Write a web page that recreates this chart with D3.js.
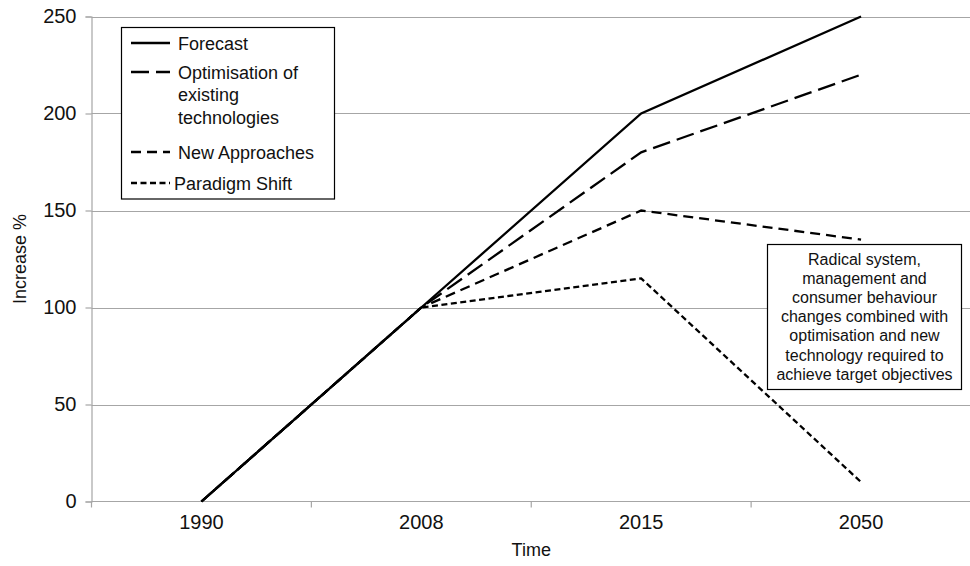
<!DOCTYPE html>
<html>
<head>
<meta charset="utf-8">
<script src="https://cdn.jsdelivr.net/npm/d3@7"></script>
<style>
  html, body { margin: 0; padding: 0; background: #fff; }
  svg { display: block; font-family: "Liberation Sans", Arial, Helvetica, sans-serif; }
</style>
</head>
<body>
<svg id="chart" width="970" height="566"></svg>
<script>
// Time periods along the x axis
const categories = ["1990", "2008", "2015", "2050"];

// Increase (%) per scenario
const forecast     = [0, 100, 200, 250];
const optimisation = [0, 100, 180, 220];
const newApproach  = [0, 100, 150, 135];
const paradigm     = [0, 100, 115, 10];

const seriesNames = ["Forecast", "Optimisation of existing technologies", "New Approaches", "Paradigm Shift"];
const yTicks = [0, 50, 100, 150, 200, 250];

const noteLines = [
  "Radical system,",
  "management and",
  "consumer behaviour",
  "changes combined with",
  "optimisation and new",
  "technology required to",
  "achieve target objectives"
];

(function () {
  const series = [
    { name: seriesNames[0], values: forecast,     dash: null },
    { name: seriesNames[1], values: optimisation, dash: "18,7" },
    { name: seriesNames[2], values: newApproach,  dash: "10,6" },
    { name: seriesNames[3], values: paradigm,     dash: "6,3.5" }
  ];

  const svg = d3.select("#chart");
  const plotLeft = 91.5, plotRight = 971, plotTop = 16.5, plotBottom = 501.5;

  const x = d3.scaleBand().domain(categories).range([plotLeft, plotRight]);
  const y = d3.scaleLinear().domain([0, 250]).range([plotBottom, plotTop]);
  const cx = c => x(c) + x.bandwidth() / 2;

  const gridColor = "#a6a6a6";

  // horizontal gridlines
  svg.append("g").selectAll("line")
    .data(yTicks.filter(d => d > 0))
    .join("line")
    .attr("x1", plotLeft).attr("x2", 970)
    .attr("y1", d => Math.round(y(d)) + 0.5).attr("y2", d => Math.round(y(d)) + 0.5)
    .attr("stroke", gridColor).attr("stroke-width", 1.2);

  // y axis
  const yAxis = svg.append("g")
    .attr("transform", `translate(${plotLeft},0)`)
    .call(d3.axisLeft(y).tickValues(yTicks).tickSize(6).tickPadding(9));
  yAxis.select(".domain").attr("stroke", gridColor).attr("stroke-width", 1.2);
  yAxis.selectAll(".tick line").attr("stroke", gridColor).attr("stroke-width", 1.2);
  yAxis.selectAll(".tick text").attr("font-size", 20).attr("fill", "#111")
    .attr("font-family", "'Liberation Sans', Arial, sans-serif");

  // x axis baseline with ticks at category boundaries
  const xAxis = svg.append("g");
  xAxis.append("line")
    .attr("x1", plotLeft).attr("x2", 970)
    .attr("y1", plotBottom).attr("y2", plotBottom)
    .attr("stroke", gridColor).attr("stroke-width", 1.2);
  const bounds = categories.map(c => x(c)).concat([x(categories[categories.length - 1]) + x.bandwidth()]);
  xAxis.selectAll("line.tk").data(bounds).join("line").attr("class", "tk")
    .attr("x1", d => d).attr("x2", d => d)
    .attr("y1", plotBottom).attr("y2", plotBottom + 6)
    .attr("stroke", gridColor).attr("stroke-width", 1.2);
  xAxis.selectAll("text").data(categories).join("text")
    .attr("x", d => cx(d)).attr("y", plotBottom + 27)
    .attr("text-anchor", "middle").attr("font-size", 20).attr("fill", "#111")
    .text(d => d);

  // axis titles
  svg.append("text")
    .attr("transform", `translate(26,${(plotTop + plotBottom) / 2}) rotate(-90)`)
    .attr("text-anchor", "middle").attr("font-size", 18).attr("fill", "#111")
    .text("Increase %");
  svg.append("text")
    .attr("x", (plotLeft + plotRight) / 2).attr("y", 556)
    .attr("text-anchor", "middle").attr("font-size", 18).attr("fill", "#111")
    .text("Time");

  // scenario lines (drawn back to front so the solid forecast sits on top)
  const line = d3.line().x((d, i) => cx(categories[i])).y(d => y(d));
  svg.append("g").selectAll("path")
    .data(series.slice().reverse())
    .join("path")
    .attr("d", d => line(d.values))
    .attr("fill", "none")
    .attr("stroke", "#000")
    .attr("stroke-width", 2.3)
    .attr("stroke-dasharray", d => d.dash)
    .attr("stroke-linejoin", "miter");

  // legend
  const lg = svg.append("g");
  lg.append("rect")
    .attr("x", 121.5).attr("y", 27.5).attr("width", 213).attr("height", 171.5)
    .attr("fill", "#fff").attr("stroke", "#000").attr("stroke-width", 1.2);
  const legendRows = [
    { s: series[0], ly: 43, tx: 178, lines: ["Forecast"] },
    { s: series[1], ly: 72, tx: 178, lines: ["Optimisation of", "existing", "technologies"] },
    { s: series[2], ly: 152, tx: 178, lines: ["New Approaches"] },
    { s: series[3], ly: 183, tx: 174, lines: ["Paradigm Shift"] }
  ];
  legendRows.forEach(r => {
    lg.append("line")
      .attr("x1", 131).attr("x2", 170).attr("y1", r.ly).attr("y2", r.ly)
      .attr("stroke", "#000").attr("stroke-width", 2.3)
      .attr("stroke-dasharray", r.s.dash);
    r.lines.forEach((t, i) => {
      lg.append("text")
        .attr("x", r.tx).attr("y", r.ly + 6.5 + i * 22.5)
        .attr("font-size", 18).attr("fill", "#111")
        .text(t);
    });
  });

  // annotation box
  const note = svg.append("g");
  const nx = 767.5, ny = 244.5, nw = 194, nh = 145;
  note.append("rect")
    .attr("x", nx).attr("y", ny).attr("width", nw).attr("height", nh)
    .attr("fill", "#fff").attr("stroke", "#000").attr("stroke-width", 1.2);
  note.selectAll("text").data(noteLines).join("text")
    .attr("x", nx + nw / 2).attr("y", (d, i) => 264.5 + i * 19.2)
    .attr("text-anchor", "middle").attr("font-size", 16).attr("fill", "#111")
    .text(d => d);
})();
</script>
</body>
</html>
